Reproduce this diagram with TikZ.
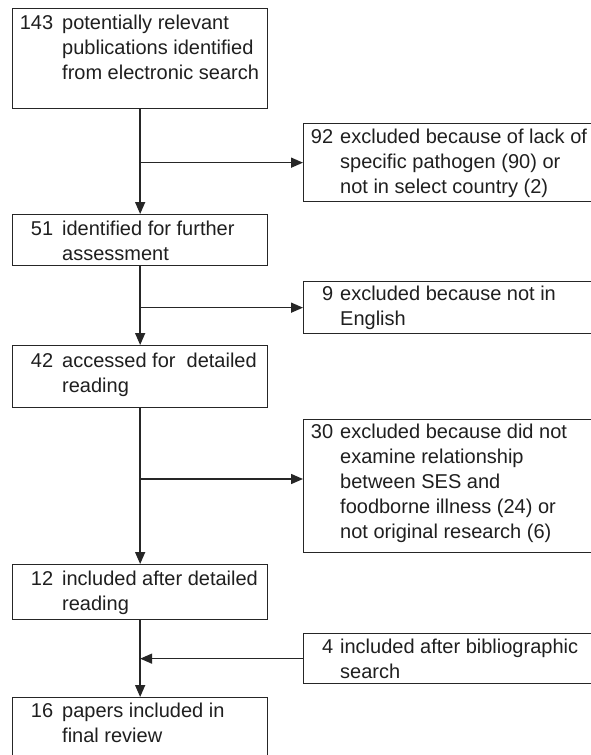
\documentclass[tikz,border=0pt]{standalone}
\usepackage{fontspec}
\setmainfont{Liberation Sans}
\usetikzlibrary{arrows.meta}
\newcommand\entrytext[3]{\llap{#1\hspace{#2}}\begin{tabular}[t]{@{}l@{}}#3\end{tabular}}
\tikzset{
  box/.style={draw=black!85, line width=1.3pt, fill=white, rectangle, inner sep=0pt, anchor=north west},
  lbl/.style={anchor=base west, inner sep=0pt, text=black!88, font=\fontsize{20}{25}\selectfont},
  conn/.style={draw=black!85, line width=1.5pt},
  arr/.style={conn, -{Triangle[length=12pt,width=10pt]}}
}
\begin{document}
\begin{tikzpicture}[x=1pt,y=-1pt]
\useasboundingbox[fill=white] (0,0) rectangle (590,755);
% left column boxes
\node[box, minimum width=255pt, minimum height=100pt] (b143) at (12,8) {};
\node[box, minimum width=255pt, minimum height=51pt] (b51) at (12,214) {};
\node[box, minimum width=255pt, minimum height=62pt] (b42) at (12,345) {};
\node[box, minimum width=255pt, minimum height=55pt] (b12) at (12,564) {};
\node[box, minimum width=255pt, minimum height=80pt] (b16) at (12,697) {};
% right column boxes
\node[box, minimum width=292pt, minimum height=78pt] (b92) at (303,123) {};
\node[box, minimum width=292pt, minimum height=52pt] (b9) at (303,281) {};
\node[box, minimum width=292pt, minimum height=133pt] (b30) at (303,419) {};
\node[box, minimum width=292pt, minimum height=50pt] (b4) at (303,633) {};
% texts
\node[lbl] (t143) at (62,29) {\entrytext{143}{9pt}{potentially relevant\\publications identified\\from electronic search}};
\node[lbl] (t51) at (62,235) {\entrytext{51}{9pt}{identified for further\\assessment}};
\node[lbl] (t42) at (62,367) {\entrytext{42}{9pt}{accessed for\ \ detailed\\reading}};
\node[lbl] (t12) at (62,585) {\entrytext{12}{9pt}{included after detailed\\reading}};
\node[lbl] (t16) at (62,717) {\entrytext{16}{9pt}{papers included in\\final review}};
\node[lbl] (t92) at (340,143) {\entrytext{92}{7pt}{excluded because of lack of\\specific pathogen (90) or\\not in select country (2)}};
\node[lbl] (t9) at (340,300) {\entrytext{9}{7pt}{excluded because not in\\English}};
\node[lbl] (t30) at (340,438) {\entrytext{30}{7pt}{excluded because did not\\examine relationship\\between SES and\\foodborne illness (24) or\\not original research (6)}};
\node[lbl] (t4) at (340,653) {\entrytext{4}{7pt}{included after bibliographic\\search}};
% junctions
\coordinate (j1) at (b143.south |- b92.west);
\coordinate (j2) at (b51.south |- b9.west);
\coordinate (j3) at (b42.south |- 0,479);
\coordinate (j4) at (b12.south |- b4.west);
% connectors
\draw[arr] (b143.south) -- (b51.north);
\draw[arr] (j1) -- (b92.west);
\draw[arr] (b51.south) -- (b42.north);
\draw[arr] (j2) -- (b9.west);
\draw[arr] (b42.south) -- (b12.north);
\draw[arr] (j3) -- (j3 -| b30.west);
\draw[arr] (b12.south) -- (b16.north);
\draw[arr] (b4.west) -- (j4);
\end{tikzpicture}
\end{document}
